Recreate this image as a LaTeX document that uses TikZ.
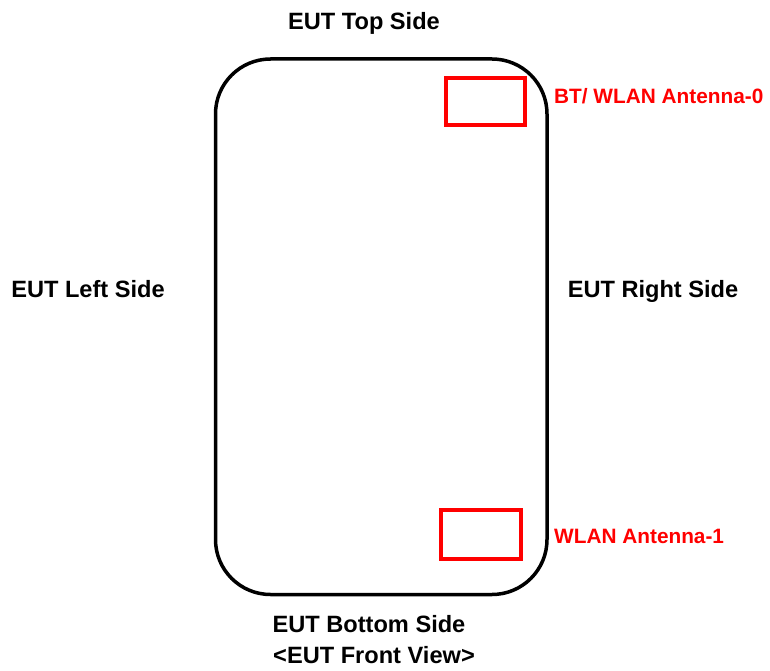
\documentclass[tikz,border=0pt]{standalone}
\usepackage{fontspec}
\setmainfont{Liberation Sans}
\usepackage{tikz}

\begin{document}
\begin{tikzpicture}[x=1pt,y=-1pt,
  side/.style={inner sep=0pt,anchor=base,font=\fontsize{23.6}{28}\selectfont\bfseries},
  ant/.style={inner sep=0pt,anchor=base west,text=red,font=\fontsize{20.8}{25}\selectfont\bfseries}]
\useasboundingbox (0,0) rectangle (770,671);
\draw[line width=3.5pt,rounded corners=55pt] (215.5,59) rectangle (547,594.5);
\draw[red,line width=3.2pt] (446,78) rectangle (525,125);
\draw[red,line width=3.2pt] (441,510) rectangle (521,559);
%
\node[side] (topside) at (364,30) {EUT Top Side};
\node[side] (leftside) at (88,297) {EUT Left Side};
\node[side] (rightside) at (653,297) {EUT Right Side};
\node[side] (bottomside) at (369,632) {EUT Bottom Side};
\node[side] (frontview) at (374,663) {<EUT Front View>};
%
\node[ant] (ant0) at (554,104) {BT/ WLAN Antenna-0};
\node[ant] (ant1) at (554,543) {WLAN Antenna-1};
\end{tikzpicture}
\end{document}
